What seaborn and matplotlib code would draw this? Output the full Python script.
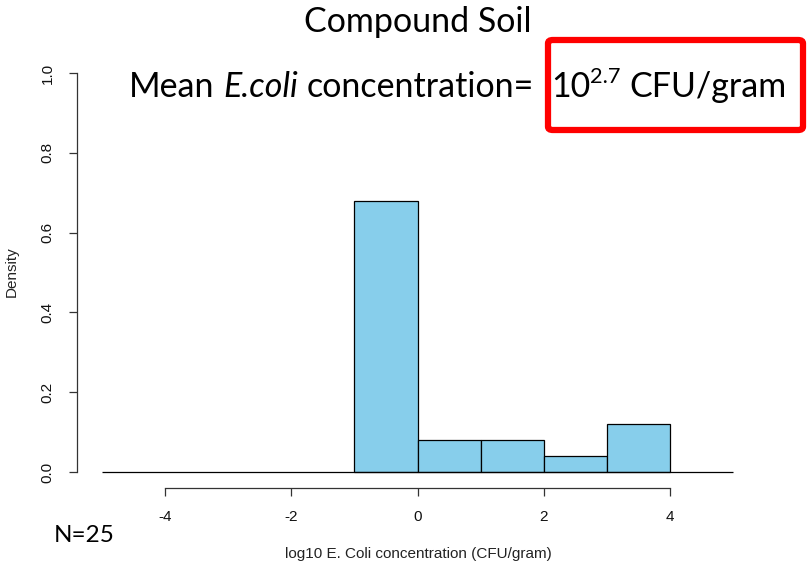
import matplotlib
matplotlib.use("Agg")
import matplotlib.pyplot as plt
from matplotlib.patches import FancyBboxPatch
import seaborn as sns
import numpy as np

# Data
bin_edges = [-1, 0, 1, 2, 3, 4]
bin_mids = [-0.5, 0.5, 1.5, 2.5, 3.5]
densities = [0.68, 0.08, 0.08, 0.04, 0.12]
x_ticks = [-4, -2, 0, 2, 4]
y_ticks = [0.0, 0.2, 0.4, 0.6, 0.8, 1.0]
title_text = "Compound Soil"
n_text = "N=25"

sns.set_theme(style="white")
plt.rcParams['font.family'] = ['Liberation Sans', 'DejaVu Sans']

fig = plt.figure(figsize=(8.07, 5.67), dpi=100)
W, H = 807, 567
ax = fig.add_axes([77 / W, 1 - 488 / H, (758 - 77) / W, (488 - 57) / H])

sns.histplot(x=bin_mids, weights=densities, bins=bin_edges, stat="count",
             color="#87CEEB", alpha=1, edgecolor="black", linewidth=0.9, ax=ax)
ax.hlines(0, -5, 5, color="black", linewidth=0.9)

ax.set_xlim(-5.4, 5.4)
ax.set_ylim(-0.04, 1.04)
ax.set_xticks(x_ticks)
ax.set_xticklabels([str(t) for t in x_ticks], fontsize=11)
ax.set_yticks(y_ticks)
ax.set_yticklabels([f"{t:.1f}" for t in y_ticks], fontsize=11, rotation=90, va="center")
for s in ["top", "right"]:
    ax.spines[s].set_visible(False)
ax.spines["left"].set_bounds(0, 1)
ax.spines["bottom"].set_bounds(-4, 4)
for s in ["left", "bottom"]:
    ax.spines[s].set_color("#333333")
    ax.spines[s].set_linewidth(0.9)
ax.tick_params(axis="both", direction="out", length=6, width=0.9, color="#333333",
               bottom=True, left=True, pad=10, labelcolor="#111111")
ax.set_xlabel("log10 E. Coli concentration (CFU/gram)", fontsize=11, color="#222222")
ax.set_ylabel("Density", fontsize=11, color="#222222")
ax.xaxis.set_label_coords((418 - 77) / (758 - 77), -(547 - 488) / (488 - 57))
ax.yaxis.set_label_coords(-(77 - 19) / (758 - 77), (488 - 272) / (488 - 57))

fig.text(418 / W, 1 - 22 / H, title_text, ha="center", va="center",
         fontsize=24.5, family="Lato", color="black")

# Second title line, laid out piece by piece (normal / italic / superscript)
renderer = fig.canvas.get_renderer()
fs = 24.5
sup_fs = fs * 0.64


def width_of(s, **kw):
    t = fig.text(0, 0, s, family="Lato", **kw)
    w = t.get_window_extent(renderer).width
    t.remove()
    return w


space_w = width_of("a a", fontsize=fs) - width_of("aa", fontsize=fs)
pieces = [("Mean", dict(fontsize=fs), 0, 1),
          ("E.coli", dict(fontsize=fs, style="italic"), 0, 1),
          ("concentration=", dict(fontsize=fs), 0, 1.9),
          ("10", dict(fontsize=fs), 0, 0),
          ("2.7", dict(fontsize=sup_fs), 14, 1),
          ("CFU/gram", dict(fontsize=fs), 0, 0)]
x = 129.0
base = 97.0
for text, kw, rise, n_spaces in pieces:
    t = fig.text(x / W, 1 - (base - rise) / H, text, ha="left", va="baseline",
                 family="Lato", color="black", **kw)
    x += t.get_window_extent(renderer).width + n_spaces * space_w

fig.text(84 / W, 1 - 535 / H, n_text, ha="center", va="center", fontsize=17.5,
         family="Lato", color="black")

box = FancyBboxPatch((548 / W, 1 - 130 / H), (803 - 548) / W, (130 - 40) / H,
                     boxstyle="round,pad=0,rounding_size=0.006",
                     transform=fig.transFigure, facecolor="none",
                     edgecolor="#FF0000", linewidth=4.5)
fig.patches.append(box)

fig.savefig("out.png", dpi=100)
